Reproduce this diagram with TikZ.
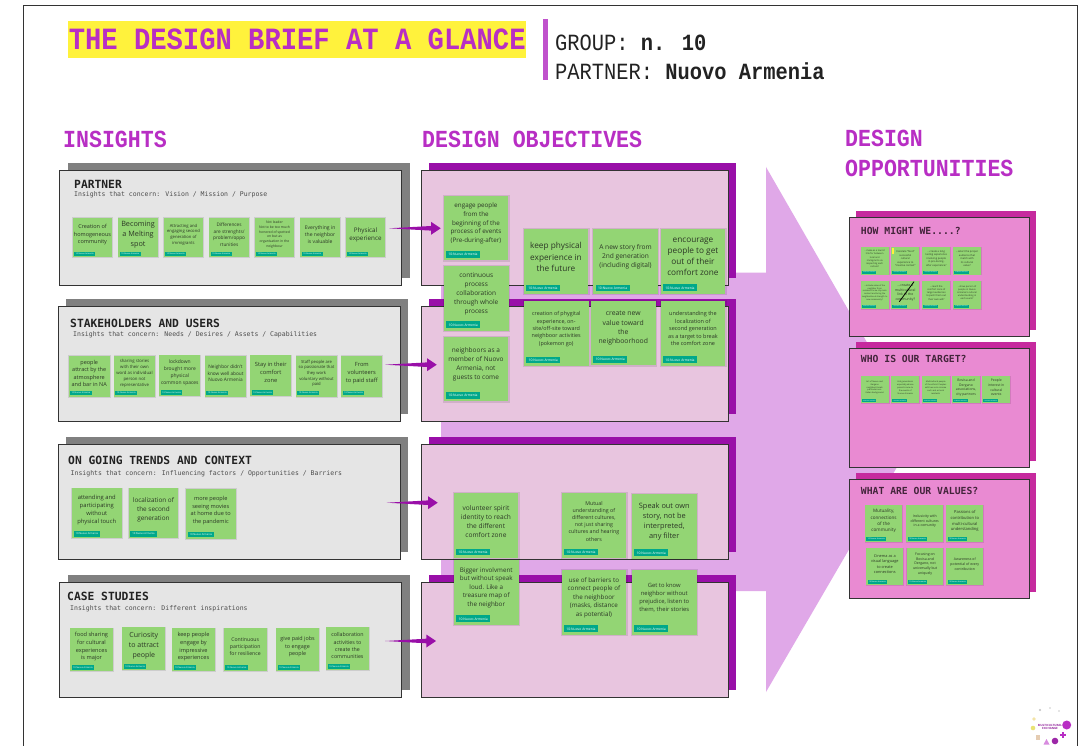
\documentclass[tikz,border=0pt]{standalone}
\usepackage{fontspec}
\setmainfont{Open Sans}
\newfontfamily\headmono[FakeStretch=0.88]{Liberation Mono}
\newfontfamily\panelmono{DejaVu Sans Mono}
\usetikzlibrary{calc,shadows}
\definecolor{titlepurple}{HTML}{B82EC4}
\definecolor{titleyellow}{HTML}{FFF23C}
\definecolor{barpurple}{HTML}{C052CC}
\definecolor{inkdark}{HTML}{222222}
\definecolor{frameink}{HTML}{333333}
\definecolor{insightfront}{HTML}{E5E5E5}
\definecolor{insightback}{HTML}{808080}
\definecolor{objfront}{HTML}{E8C5DF}
\definecolor{objback}{HTML}{990FA8}
\definecolor{bigarrow}{HTML}{E0A8E8}
\definecolor{oppfront}{HTML}{E98AD2}
\definecolor{oppback}{HTML}{C62A9E}
\definecolor{stickygreen}{HTML}{93D574}
\definecolor{tagteal}{HTML}{00A88A}
\definecolor{stickyink}{HTML}{2C3826}
\tikzset{
  stickybox/.style={rectangle,fill=stickygreen,inner sep=0pt,outer sep=0pt,anchor=north west,
    general shadow={shadow scale=1.035,shadow xshift=.3pt,shadow yshift=-.3pt,fill=black,opacity=.1}},
  stickytext/.style={align=center,inner sep=0pt,text=stickyink},
  tagbox/.style={rectangle,fill=tagteal,inner sep=0pt,outer sep=0pt,anchor=south west,text=white},
  panelfront/.style={draw=frameink,line width=.9pt},
  sectionhead/.style={anchor=west,inner sep=0pt,text=titlepurple,font=\headmono\bfseries\fontsize{24.5}{30}\selectfont,align=left},
  panelhead/.style={anchor=west,inner sep=0pt,text=inkdark,font=\panelmono\bfseries\fontsize{11.3}{13}\selectfont},
  panelsub/.style={anchor=west,inner sep=0pt,text=black!70,font=\panelmono\fontsize{6.5}{8}\selectfont},
  opphead/.style={anchor=west,inner sep=0pt,text=inkdark!80!oppback,font=\panelmono\bfseries\fontsize{9.75}{12}\selectfont},
  logodot/.style={circle,inner sep=0pt,outer sep=0pt},
}
% name, x, y, w, h, font size, text
\newcommand{\sticky}[7]{%
  \pgfmathsetmacro\stkline{#6*1.5}%
  \pgfmathsetmacro\stkfont{#6*1.1}%
  \pgfmathsetmacro\stktag{0.052*#4}%
  \pgfmathsetmacro\stktagw{0.526*#4}%
  \pgfmathsetmacro\stktagh{0.104*#4}%
  \pgfmathsetmacro\stkins{0.036*#4}%
  \pgfmathsetmacro\stkup{-0.07*#4}%
  \node[stickybox,minimum width=#4pt,minimum height=#5pt] (#1) at (#2,#3) {};
  \node[stickytext,font=\fontsize{\stkfont}{\stkline}\selectfont] (#1t) at ($(#1.center)+(0,\stkup)$) {#7};
  \node[tagbox,minimum width=\stktagw pt,minimum height=\stktagh pt,font=\fontsize{\stktag}{\stktag}\selectfont] (#1g) at ($(#1.south west)+(\stkins,-\stkins)$) {10:Nuovo Armenia};
}
% panel: name, x0, y0, x1, y1, dx, dy, back colour, front colour
\newcommand{\panel}[9]{%
  \node[rectangle,inner sep=0pt,outer sep=0pt,fill=#8,anchor=north west,minimum width={#4pt-#2pt},minimum height={#5pt-#3pt}] (#1b) at ({#2+#6},{#3+#7}) {};
  \node[rectangle,inner sep=0pt,outer sep=0pt,panelfront,fill=#9,anchor=north west,minimum width={#4pt-#2pt},minimum height={#5pt-#3pt}] (#1) at (#2,#3) {};
}
% tapered connector: start coordinate, end coordinate
\newcommand{\taper}[2]{%
  \fill[objback] (#1) -- ($(#2)+(-9.7,-2.3)$) -- ($(#2)+(-9.7,-6.5)$) -- (#2) -- ($(#2)+(-9.7,6.5)$) -- ($(#2)+(-9.7,2.3)$) -- cycle;
}
\begin{document}
\begin{tikzpicture}[x=1pt,y=-1pt]
\useasboundingbox (0,0) rectangle (1087,746);
\fill[white] (0,0) rectangle (1087,746);
\draw[frameink,line width=1pt] (23.5,746) -- (23.5,5.3) -- (1077,5.3) -- (1077,746);

% header
\node[rectangle,fill=titleyellow,inner sep=0pt,anchor=north west,minimum width=458pt,minimum height=37pt,text=titlepurple,font=\headmono\bfseries\fontsize{30.9}{33}\selectfont] (title) at (68,20.7) {THE DESIGN BRIEF AT A GLANCE};
\node[rectangle,fill=barpurple,inner sep=0pt,anchor=north west,minimum width=5pt,minimum height=61pt] (titlebar) at (543,19) {};
\node[anchor=west,inner sep=0pt,text=inkdark,font=\headmono\fontsize{23.2}{26}\selectfont] (grouplabel) at (555,43) {GROUP: {\bfseries n. 10}};
\node[anchor=west,inner sep=0pt,text=inkdark,font=\headmono\fontsize{23.2}{26}\selectfont] (partnerlabel) at (555,71.5) {PARTNER: {\bfseries Nuovo Armenia}};

\node[sectionhead] (insights) at (63,139) {INSIGHTS};
\node[sectionhead] (objectives) at (422,139) {DESIGN OBJECTIVES};
\node[sectionhead] (opportunities) at (845,153.5) {DESIGN\\OPPORTUNITIES};

% big background arrow
\fill[bigarrow] (441,272.7) -- (766,272.7) -- (766,167) -- (918,431) -- (766,692) -- (766,591) -- (441,591) -- cycle;

% insight panels
\panel{ipartner}{59.3}{170.7}{401.3}{285.3}{8.7}{-7.7}{insightback}{insightfront}
\panel{istake}{58.3}{306.7}{400}{421.3}{7.7}{-7.7}{insightback}{insightfront}
\panel{itrend}{58.3}{444.3}{400}{559.3}{7.7}{-7.3}{insightback}{insightfront}
\panel{icase}{59.3}{582.3}{401.3}{697.3}{8.7}{-7.3}{insightback}{insightfront}

\node[panelhead] (h1) at (74,184) {PARTNER};
\node[panelsub] (s1) at (74,195) {Insights that concern: Vision / Mission / Purpose};
\node[panelhead] (h2) at (70,323) {STAKEHOLDERS AND USERS};
\node[panelsub] (s2) at (73,334.7) {Insights that concern: Needs / Desires / Assets / Capabilities};
\node[panelhead] (h3) at (68,460) {ON GOING TRENDS AND CONTEXT};
\node[panelsub] (s3) at (70.5,473.7) {Insights that concern: Influencing factors / Opportunities / Barriers};
\node[panelhead] (h4) at (67,596) {CASE STUDIES};
\node[panelsub] (s4) at (70,608.7) {Insights that concern: Different inspirations};

\sticky{pa}{72.7}{217.7}{39.6}{39.6}{5}{Creation of\\homogeneous\\community}
\sticky{pb}{118.3}{217.7}{39.6}{39.6}{6.6}{Becoming\\a Melting\\spot}
\sticky{pc}{163.7}{217.7}{39.6}{39.6}{3.8}{Attracting and\\engaging second\\generation of\\immigrants}
\sticky{pd}{209.3}{217.7}{39.6}{39.6}{4.3}{Differences\\are strenghts/\\problem/oppo\\rtunities}
\sticky{pe}{254.7}{217.7}{39.6}{39.6}{3.1}{Not leader\\Not to be too much\\honored of spotted\\on but as\\organisation in the\\neighbour}
\sticky{pf}{300.3}{217.7}{39.6}{39.6}{4.6}{Everything in\\the neighbor\\is valuable}
\sticky{pg}{345.7}{217.7}{39.6}{39.6}{5.7}{Physical\\experience}

\sticky{sa}{68.7}{355.7}{41}{41}{5}{people\\attract by the\\atmosphere\\and bar in NA}
\sticky{sb}{114}{355.7}{41}{41}{3.9}{sharing stories\\with their own\\word as individual\\person not\\representative}
\sticky{sc}{159.3}{355}{41}{41}{4.5}{lockdown\\brought more\\physical\\common spaces}
\sticky{sd}{205}{355.7}{41}{41}{4.3}{Neighbor didn't\\know well about\\Nuovo Armenia}
\sticky{se}{250.3}{355}{41}{41}{5.2}{Stay in their\\comfort\\zone}
\sticky{sf}{296}{355.7}{41}{41}{3.8}{Staff people are\\so passionate that\\they work\\voluntary without\\paid}
\sticky{sg}{341.3}{355.7}{41}{41}{5.2}{From\\volunteers\\to paid staff}

\sticky{ta}{72}{488.3}{49.5}{50}{5.3}{attending and\\participating\\without\\physical touch}
\sticky{tb}{128.7}{488.3}{49.5}{50}{5.8}{localization of\\the second\\generation}
\sticky{tc}{186}{489}{49.5}{50}{5.1}{more people\\seeing movies\\at home due to\\the pandemic}

\sticky{ca}{70}{628.3}{43}{43}{5.1}{food sharing\\for cultural\\experiences\\is major}
\sticky{cb}{122.3}{627.3}{43}{43}{6.4}{Curiosity\\to attract\\people}
\sticky{cc}{172}{628.3}{43}{43}{5.1}{keep people\\engage by\\impressive\\experiences}
\sticky{cd}{223.7}{628.3}{43}{43}{4.7}{Continuous\\participation\\for resilience}
\sticky{ce}{276}{628.3}{43}{43}{4.9}{give paid jobs\\to engage\\people}
\sticky{cf}{326}{627.3}{43}{43}{4.8}{collaboration\\activities to\\create the\\communities}

% objective panels
\panel{opartner}{421.7}{170.7}{728.3}{285.3}{7.3}{-7.7}{objback}{objfront}
\panel{ostake}{421.7}{306.7}{728.3}{421.3}{7.3}{-7.7}{objback}{objfront}
\panel{otrend}{421.7}{444.3}{728.3}{559.3}{7.3}{-7.3}{objback}{objfront}
\panel{ocase}{421.7}{582.3}{728.3}{697.3}{7.3}{-7.3}{objback}{objfront}

\sticky{oa}{443.7}{195.7}{64.5}{64.5}{5.7}{engage people\\from the\\beginning of the\\process of events\\(Pre-during-after)}
\sticky{ob}{444}{266}{64.5}{64.5}{5.9}{continuous\\process\\collaboration\\through whole\\process}
\sticky{oc}{443.7}{336.7}{64.5}{64.5}{5.9}{neighboors as a\\member of Nuovo\\Armenia, not\\guests to come}
\sticky{od}{523.7}{229.3}{64.5}{64.5}{7.5}{keep physical\\experience in\\the future}
\sticky{oe}{593.3}{229.3}{64.5}{64.5}{6}{A new story from\\2nd generation\\(including digital)}
\sticky{of}{660.7}{229}{64.5}{64.5}{7.5}{encourage\\people to get\\out of their\\comfort zone}
\sticky{og}{524}{301.3}{64.5}{64.5}{4.9}{creation of phygital\\experience, on-\\site/off-site toward\\neighboor activities\\(pokemon go)}
\sticky{oh}{591}{300.7}{64.5}{64.5}{6.2}{create new\\value toward\\the\\neighboorhood}
\sticky{oi}{660.7}{301}{64.5}{64.5}{5}{understanding the\\localization of\\second generation\\as a target to break\\the comfort zone}

\sticky{va}{453.7}{493.3}{64.5}{64.5}{6}{volunteer spirit\\identity to reach\\the different\\comfort zone}
\sticky{vb}{454}{560}{64.5}{64.5}{5.7}{Bigger involvment\\but without speak\\loud. Like a\\treasure map of\\the neighbor}
\sticky{vc}{561.7}{493.3}{64.5}{64.5}{4.8}{Mutual\\understanding of\\different cultures,\\not just sharing\\cultures and hearing\\others}
\sticky{vd}{632}{494}{64.5}{64.5}{6.7}{Speak out own\\story, not be\\interpreted,\\any filter}
\sticky{ve}{561.7}{570}{64.5}{64.5}{5.7}{use of barriers to\\connect people of\\the neighboor\\(masks, distance\\as potential)}
\sticky{vf}{632}{570}{64.5}{64.5}{5.3}{Get to know\\neighbor without\\prejudice, listen to\\them, their stories}

% connectors
\coordinate (a1s) at (389,228.3); \coordinate (a1e) at (440.7,228.3);
\coordinate (a2s) at (385,364.7); \coordinate (a2e) at (436.7,364.7);
\coordinate (a3s) at (386.7,502.7); \coordinate (a3e) at (437.7,502.7);
\coordinate (a4s) at (385,641); \coordinate (a4e) at (436,641);
\taper{a1s}{a1e}
\taper{a2s}{a2e}
\taper{a3s}{a3e}
\taper{a4s}{a4e}

% opportunity panels
\panel{phow}{849.3}{217.7}{1029.7}{336.7}{6.3}{-6.7}{oppback}{oppfront}
\panel{pwho}{849.3}{348.3}{1029.7}{467.3}{6.3}{-6.3}{oppback}{oppfront}
\panel{pval}{849.3}{479.3}{1029.7}{598.3}{6.3}{-6.3}{oppback}{oppfront}
\node[opphead] (ph1) at (860.7,230.7) {HOW MIGHT WE....?};
\node[opphead] (ph2) at (860.7,358.7) {WHO IS OUR TARGET?};
\node[opphead] (ph3) at (860.7,490.7) {WHAT ARE OUR VALUES?};

\sticky{ha}{860.7}{246.7}{28}{28}{2.1}{...make as a tourist\\link for between\\local and\\immigrants via\\respecting each\\culture?}
\sticky{hb}{891.3}{246.7}{28}{28}{2.3}{translate "food"\\successful\\cultural\\experience to\\"creative context"}
\sticky{hc}{922.3}{246.7}{28}{28}{2.3}{...create a long\\lasting experience\\involving people\\in pre-during-\\after experience?}
\sticky{hd}{953}{246.7}{28}{28}{2.3}{...select the proper\\audience that\\match with\\its cultural\\value?}
\sticky{he}{860.7}{280.7}{28}{28}{1.9}{...include value of the\\neighbor from\\residents to be city main\\content and bring the\\neighborhood strength to\\new community?}
\sticky{hf}{891.3}{280.7}{28}{28}{3.1}{...create a\\multicultural\\link to the\\community?}
\sticky{hg}{922.3}{280.7}{28}{28}{2.2}{...reach the\\comfort zone of\\target audiences\\to push them out\\their own will?}
\sticky{hh}{953}{280.7}{28}{28}{2.1}{...show person of\\people in Nuovo\\Armenia's cultural\\understanding in\\each event?}
\coordinate (strikeA) at (899.3,301.7);
\coordinate (strikeB) at (914,281.7);
\draw[black,line width=.8pt] (strikeA) -- (strikeB);
\fill[titleyellow] (892,248) rectangle (894,254);

\sticky{wa}{860.7}{375.7}{28}{27.7}{1.9}{Art of Nuovo and\\Gargano\\neighbors/locals\\particular non-\\Italian background}
\sticky{wb}{891.3}{375.7}{28}{27.7}{1.9}{2nd generations\\especially whose\\parents came to\\the events of\\Nuovo Armenia}
\sticky{wc}{921.7}{375.7}{28}{27.7}{1.9}{Multicultural people\\of the ethnic/ Peoples\\with low socio income\\such and as local\\residents}
\sticky{wd}{952}{375.7}{28}{27.7}{3.1}{Bovisa and\\Dergano\\associations,\\city partners}
\sticky{we}{982.3}{375.7}{28}{27.7}{3.1}{People\\interest in\\cultural\\events}

\sticky{xa}{865}{505.3}{37.3}{37}{4.2}{Mutuality,\\connections\\of the\\community}
\sticky{xb}{906.3}{505.3}{37}{37}{3.2}{Inclusivity with\\different cultures\\in a comunity}
\sticky{xc}{946.3}{505.3}{37}{37}{3.7}{Passions of\\contribution to\\multi-cultural\\understanding}
\sticky{xd}{866.3}{548}{37}{37.3}{3.5}{Cinema as a\\visual language\\to create\\connections}
\sticky{xe}{906.7}{548}{36.7}{37.3}{3.2}{Focusing on\\Bovisa and\\Dergano, not\\universally but\\uniquely}
\sticky{xf}{946.3}{548}{37}{37.3}{3.2}{Awareness of\\potential of every\\contribution}

% logo
\node[logodot,fill=titlepurple,minimum size=9pt] (lg1) at (1066.7,725) {};
\node[logodot,fill=titlepurple!85!black,minimum size=6.6pt] (lg2) at (1055,741) {};
\node[logodot,fill=yellow!60!olive!50,minimum size=4.6pt] (lg3) at (1033,728) {};
\node[logodot,fill=yellow!50!brown!40,minimum size=3.6pt] (lg4) at (1034,719) {};
\node[logodot,fill=gray!50,minimum size=2.2pt] (lg5) at (1040,710) {};
\node[logodot,fill=gray!40,minimum size=1.8pt] (lg6) at (1050,708) {};
\node[logodot,fill=gray!40,minimum size=1.8pt] (lg7) at (1059,711) {};
\fill[titlepurple] (1061.7,732.2) rectangle (1064.3,738.2);
\fill[titlepurple] (1060,734) rectangle (1066,736.4);
\fill[titlepurple!55] (1043.5,744.5) -- (1046.5,739) -- (1049.5,744.5) -- cycle;
\fill[brown!40] (1036,735) rectangle (1040,739.5);
\node[align=center,inner sep=0pt,text=titlepurple!80!black,font=\bfseries\fontsize{2.9}{3.8}\selectfont] (lgtext) at (1050,727) {MULTICULTURAL\\EXCHANGE};
\end{tikzpicture}
\end{document}
